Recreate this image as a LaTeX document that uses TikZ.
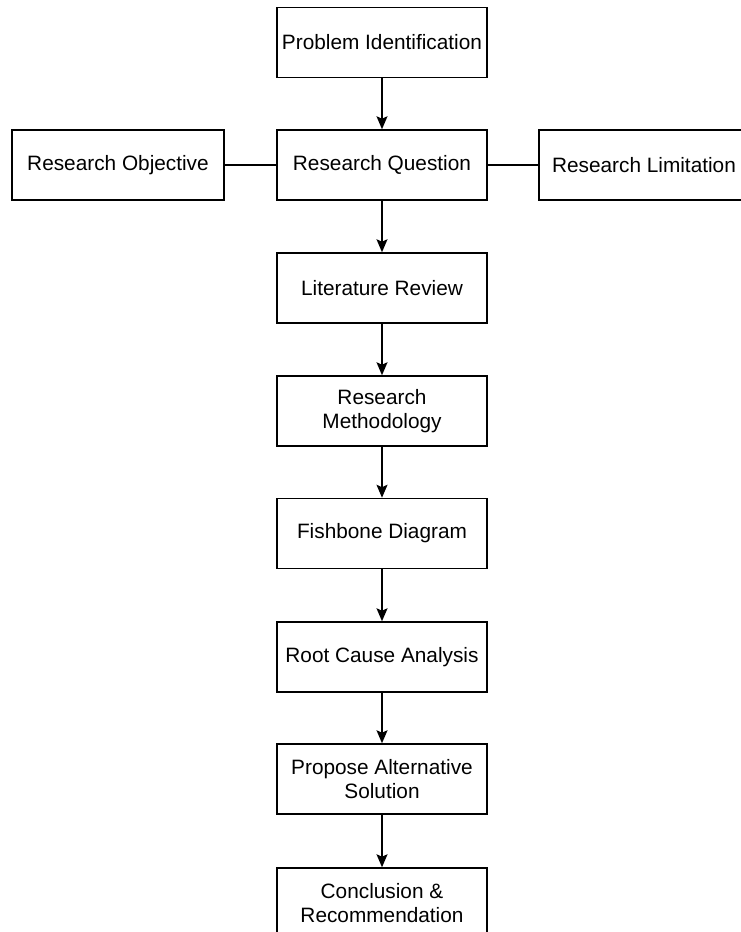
\documentclass[tikz,border=0pt]{standalone}
\usepackage{fontspec}
\setmainfont{Liberation Sans}
\usetikzlibrary{arrows.meta}
\begin{document}
\begin{tikzpicture}[x=1pt,y=-1pt,
  box/.style={draw=black,line width=1.5pt,minimum width=210pt,minimum height=70pt,
    inner sep=0pt,align=center,font=\fontsize{20.8}{24}\selectfont},
  flow/.style={draw=black,line width=1.5pt,-{Stealth[length=13pt,width=11pt,inset=2.5pt]}},
  link/.style={draw=black,line width=1.5pt}]
\useasboundingbox (0,0) rectangle (741,932);
\clip (0,0) rectangle (741,932);
\node[box] (pi) at (382,42.5) {Problem Identification};
\node[box] (rq) at (382,165) {Research Question};
\node[box,minimum width=212pt] (ro) at (118,165) {Research Objective};
\node[box] (rl) at (644,165) {Research Limitation};
\node[box] (lr) at (382,288) {Literature Review};
\node[box] (rm) at (382,411) {Research\\Methodology};
\node[box] (fd) at (382,533.5) {Fishbone Diagram};
\node[box] (rc) at (382,657) {Root Cause Analysis};
\node[box] (pa) at (382,779) {Propose Alternative\\Solution};
\node[box] (cr) at (382,903) {Conclusion \&\\Recommendation};
\draw[flow] (pi) -- (rq);
\draw[flow] (rq) -- (lr);
\draw[flow] (lr) -- (rm);
\draw[flow] (rm) -- (fd);
\draw[flow] (fd) -- (rc);
\draw[flow] (rc) -- (pa);
\draw[flow] (pa) -- (cr);
\draw[link] (ro) -- (rq);
\draw[link] (rq) -- (rl);
\end{tikzpicture}
\end{document}
